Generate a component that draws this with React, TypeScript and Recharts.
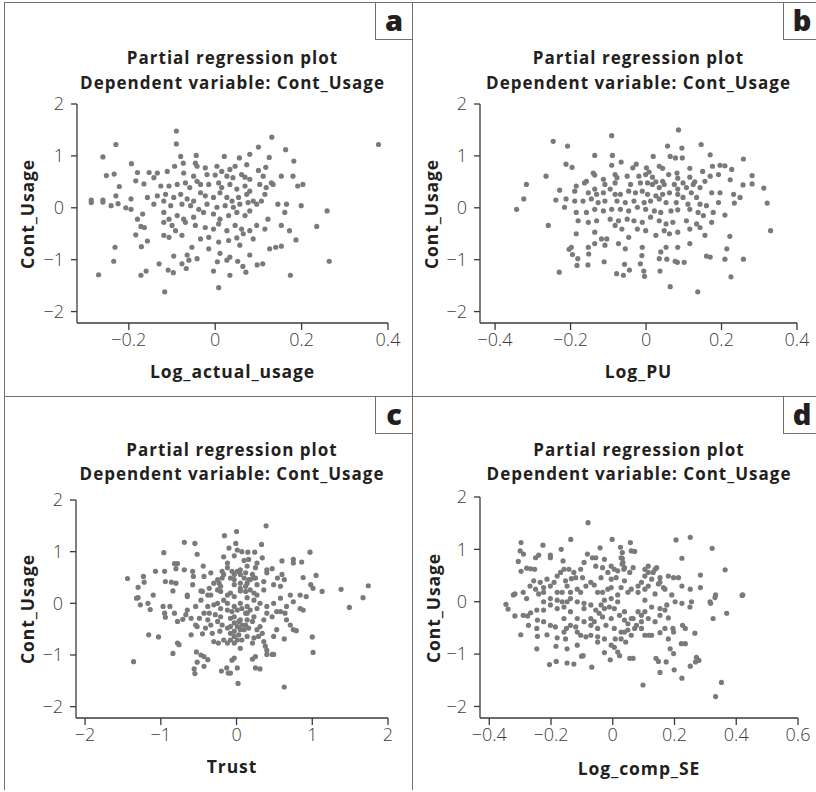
import React from 'react';
import { ScatterChart, Scatter, XAxis, YAxis } from 'recharts';

// Values (x, Cont_Usage residual)
const logActualUsage: [number, number][] = [
  // outer points
  [-0.09, 1.48], [-0.23, 1.22], [-0.09, 1.23], [0.131, 1.36], [0.378, 1.22], [-0.26, 0.98], [0.1, 1.17], [0.163, 1.12],
  [-0.252, 0.62], [-0.234, 0.65], [-0.222, 0.41], [-0.194, 0.85], [-0.18, 0.68], [-0.184, 0.52], [-0.165, 0.46], [-0.153, 0.68],
  [-0.157, 0.2], [-0.195, 0.17], [-0.23, 0.23], [-0.26, 0.15], [-0.287, 0.15],
  [-0.287, 0.1], [-0.26, 0.11], [-0.241, 0.04], [-0.225, 0.08], [-0.207, 0.0], [-0.195, -0.03], [-0.18, -0.22], [-0.168, -0.12],
  [-0.172, -0.36], [-0.164, -0.38], [-0.184, -0.52], [-0.157, -0.64], [-0.171, -0.75], [-0.232, -0.76], [-0.235, -1.03], [-0.27, -1.29],
  [-0.172, -1.3], [-0.16, -1.22], [-0.13, -1.08], [-0.117, -1.62], [-0.109, -1.2], [-0.097, -1.25], [-0.077, -1.08], [-0.067, -1.17],
  [-0.061, -1.01], [-0.004, -1.22], [0.008, -1.54], [0.005, -1.04], [0.027, -1.01], [0.034, -1.3], [0.052, -1.03], [0.064, -1.13],
  [0.071, -1.24], [0.097, -1.1], [0.11, -1.08], [0.174, -1.3], [0.235, -0.36], [0.259, -0.06], [0.264, -1.03],
  // dense centre
  [-0.08, 0.99], [-0.044, 1.01], [0.021, 0.99], [0.056, 0.96], [0.08, 1.03], [0.125, 0.97], [0.182, 0.9], [-0.094, 0.8],
  [-0.074, 0.86], [-0.046, 0.86], [-0.042, 0.8], [-0.023, 0.77], [0.004, 0.8], [0.015, 0.7], [0.034, 0.74], [0.046, 0.8],
  [0.073, 0.83], [0.1, 0.72], [0.117, 0.78], [0.153, 0.61], [0.18, 0.61], [-0.134, 0.67], [-0.111, 0.7], [-0.073, 0.67],
  [-0.05, 0.61], [-0.019, 0.64], [0.0, 0.63], [0.027, 0.61], [0.041, 0.58], [0.061, 0.64], [0.069, 0.59], [0.08, 0.55],
  [0.111, 0.61], [0.13, 0.48], [0.191, 0.42], [0.203, 0.45], [-0.142, 0.58], [-0.126, 0.42], [-0.107, 0.42], [-0.088, 0.45],
  [-0.069, 0.48], [-0.059, 0.39], [-0.042, 0.51], [-0.034, 0.45], [-0.015, 0.45], [0.008, 0.48], [0.015, 0.39], [0.034, 0.45],
  [0.05, 0.36], [0.069, 0.42], [0.08, 0.32], [0.103, 0.45], [0.118, 0.39], [0.134, 0.45], [-0.134, 0.23], [-0.115, 0.26],
  [-0.096, 0.2], [-0.08, 0.26], [-0.065, 0.17], [-0.05, 0.13], [-0.034, 0.29], [-0.023, 0.23], [-0.004, 0.2], [0.011, 0.29],
  [0.027, 0.2], [0.039, 0.13], [0.054, 0.2], [0.073, 0.26], [0.088, 0.13], [0.107, 0.13], [0.115, 0.26], [-0.142, 0.07],
  [-0.119, 0.13], [-0.103, 0.04], [-0.077, 0.07], [-0.057, 0.04], [-0.038, -0.03], [-0.019, 0.07], [0.004, 0.01], [0.023, 0.04],
  [0.042, 0.01], [0.057, 0.07], [0.076, 0.1], [0.096, 0.07], [0.145, 0.07], [0.165, 0.07], [0.199, 0.04], [-0.119, -0.09],
  [-0.107, -0.22], [-0.088, -0.15], [-0.073, -0.22], [-0.05, -0.18], [-0.027, -0.09], [-0.004, -0.12], [0.011, -0.22], [0.031, -0.15],
  [0.05, -0.09], [0.069, -0.15], [0.08, -0.06], [0.122, -0.22], [0.161, -0.09], [-0.119, -0.28], [-0.1, -0.34], [-0.092, -0.44],
  [-0.069, -0.28], [-0.046, -0.34], [-0.023, -0.38], [-0.004, -0.41], [0.008, -0.31], [0.027, -0.44], [0.046, -0.34], [0.061, -0.41],
  [0.08, -0.44], [0.096, -0.34], [0.115, -0.41], [0.153, -0.34], [0.172, -0.44], [-0.119, -0.53], [-0.107, -0.57], [-0.077, -0.53],
  [-0.034, -0.6], [-0.015, -0.57], [0.008, -0.66], [0.031, -0.63], [0.05, -0.58], [0.065, -0.5], [0.088, -0.6], [0.187, -0.62],
  [-0.096, -0.93], [-0.065, -0.91], [-0.054, -0.76], [-0.042, -0.98], [-0.015, -0.79], [0.011, -0.88], [0.034, -0.95], [0.057, -0.72],
  [0.08, -0.91], [0.126, -0.79], [0.14, -0.76], [0.153, -0.74],
];

const logPU: [number, number][] = [
  // outer points
  [-0.246, 1.28], [-0.208, 1.19], [-0.265, 0.61], [-0.317, 0.45], [-0.229, 0.34], [-0.091, 1.39], [0.057, 1.19], [0.086, 1.5],
  [0.095, 1.15], [0.146, 1.22], [0.209, 0.81], [0.227, 0.74], [0.258, 0.94], [0.223, 0.54], [0.257, 0.44], [0.281, 0.62],
  [0.281, 0.46], [0.312, 0.38], [0.232, 0.26], [0.249, 0.2], [-0.324, 0.17], [-0.239, 0.15],
  [-0.343, -0.03], [-0.259, -0.34], [-0.23, -1.24], [-0.195, -0.9], [-0.204, -0.8], [-0.183, -1.11], [-0.181, -0.98], [-0.154, -1.1],
  [-0.152, -0.89], [-0.111, -1.04], [-0.078, -1.27], [-0.06, -1.3], [-0.057, -1.09], [-0.044, -1.2], [-0.011, -0.92], [-0.015, -1.08],
  [-0.006, -1.22], [-0.004, -1.32], [0.035, -0.98], [0.037, -1.22], [0.055, -0.99], [0.064, -1.52], [0.077, -1.03], [0.083, -1.05],
  [0.101, -1.05], [0.137, -1.62], [0.214, -0.79], [0.209, -0.99], [0.222, -0.55], [0.225, -1.33], [0.258, -0.99], [0.33, -0.44],
  [0.321, 0.09], [0.234, 0.09], [0.209, -0.14],
  // dense centre
  [-0.136, 1.01], [-0.089, 1.01], [0.019, 0.99], [0.064, 0.99], [0.078, 0.96], [0.096, 0.96], [0.17, 1.02], [-0.212, 0.84],
  [-0.196, 0.78], [-0.091, 0.82], [-0.066, 0.88], [-0.035, 0.77], [-0.026, 0.84], [0.001, 0.77], [0.008, 0.69], [0.035, 0.8],
  [0.044, 0.76], [0.06, 0.64], [0.082, 0.67], [0.116, 0.76], [0.15, 0.7], [0.176, 0.8], [0.196, 0.82], [-0.14, 0.67],
  [-0.136, 0.63], [-0.082, 0.64], [-0.077, 0.58], [-0.05, 0.61], [-0.019, 0.61], [-0.001, 0.64], [0.017, 0.59], [0.026, 0.5],
  [0.044, 0.51], [0.084, 0.57], [0.098, 0.48], [0.116, 0.59], [0.129, 0.5], [0.156, 0.51], [0.17, 0.61], [0.192, 0.64],
  [-0.158, 0.51], [-0.163, 0.48], [-0.113, 0.55], [-0.109, 0.45], [-0.082, 0.48], [-0.041, 0.45], [-0.015, 0.48], [0.004, 0.48],
  [0.017, 0.45], [0.035, 0.39], [0.048, 0.45], [0.075, 0.45], [0.084, 0.36], [0.107, 0.39], [0.125, 0.45], [0.143, 0.39],
  [-0.185, 0.42], [-0.189, 0.32], [-0.153, 0.29], [-0.136, 0.36], [-0.131, 0.26], [-0.113, 0.29], [-0.095, 0.36], [-0.082, 0.26],
  [-0.068, 0.26], [-0.046, 0.32], [-0.028, 0.29], [-0.01, 0.32], [0.004, 0.26], [0.026, 0.23], [0.044, 0.26], [0.062, 0.29],
  [0.084, 0.26], [0.098, 0.2], [0.12, 0.29], [0.134, 0.2], [0.174, 0.29], [0.196, 0.29], [-0.212, 0.17], [-0.189, 0.13],
  [-0.167, 0.13], [-0.145, 0.17], [-0.127, 0.1], [-0.109, 0.13], [-0.077, 0.13], [-0.055, 0.1], [-0.032, 0.13], [-0.005, 0.1],
  [0.012, 0.13], [0.035, 0.17], [0.053, 0.1], [0.08, 0.1], [0.111, 0.07], [0.143, 0.07], [0.16, 0.04], [0.192, 0.1],
  [-0.216, 0.01], [-0.185, -0.09], [-0.158, -0.09], [-0.136, -0.03], [-0.113, -0.06], [-0.091, -0.03], [-0.068, -0.03], [-0.046, -0.06],
  [-0.023, 0.01], [-0.001, -0.03], [0.022, -0.06], [0.039, -0.09], [0.066, -0.06], [0.084, -0.04], [0.116, -0.03], [0.138, -0.09],
  [0.152, -0.15], [0.178, -0.09], [-0.18, -0.25], [-0.153, -0.28], [-0.131, -0.25], [-0.095, -0.22], [-0.073, -0.25], [-0.05, -0.22],
  [-0.032, -0.25], [-0.01, -0.28], [0.012, -0.18], [0.035, -0.25], [0.053, -0.31], [0.071, -0.28], [0.107, -0.25], [0.134, -0.31],
  [0.174, -0.28], [-0.185, -0.5], [-0.136, -0.47], [-0.118, -0.6], [-0.104, -0.6], [-0.082, -0.34], [-0.064, -0.41], [-0.046, -0.57],
  [-0.023, -0.41], [-0.001, -0.44], [0.026, -0.53], [0.048, -0.44], [0.062, -0.5], [0.084, -0.47], [0.116, -0.41], [0.143, -0.38],
  [0.156, -0.53], [-0.198, -0.76], [-0.153, -0.76], [-0.136, -0.69], [-0.109, -0.72], [-0.073, -0.69], [-0.055, -0.79], [-0.01, -0.76],
  [0.039, -0.85], [0.053, -0.76], [0.084, -0.76], [0.116, -0.69], [0.16, -0.93], [0.17, -0.95],
];

const trust: [number, number][] = [
  [-1.44, 0.48], [-1.3, 0.31], [-1.23, 0.52], [-1.22, 0.41], [-1.07, 0.62], [-0.96, 0.98], [-0.95, 0.62], [-0.94, 0.42],
  [-0.86, 0.41], [-0.8, 0.39], [-0.82, 0.77], [-0.78, 0.77], [-0.8, 0.67], [-0.69, 1.18], [-0.55, 1.16], [-0.69, 0.65],
  [-0.58, 0.62], [-0.52, 0.95], [-0.44, 0.72], [-0.57, 0.52], [-0.43, 0.52], [-0.34, 0.59], [-0.36, 0.29], [-0.58, 0.36],
  [-0.47, 0.24], [-0.84, 0.24], [-1.1, 0.16], [-0.16, 1.31], [0.0, 1.39], [-0.01, 1.16], [-0.1, 1.07], [0.01, 1.03],
  [0.07, 1.0], [0.15, 0.99], [0.24, 0.99], [0.39, 1.5], [0.33, 1.14], [-0.17, 0.9], [-0.03, 0.92], [0.1, 0.83],
  [0.16, 0.85], [0.27, 0.78], [0.34, 0.88], [-0.12, 0.78], [-0.12, 0.69], [-0.06, 0.62], [0.05, 0.65], [0.14, 0.72],
  [0.25, 0.69], [0.4, 0.65], [0.47, 0.67], [0.4, 0.59], [0.6, 0.82], [0.75, 0.85], [0.75, 0.78], [0.86, 0.8],
  [0.97, 0.99], [0.63, 0.46], [0.6, 0.56], [0.54, 0.49], [0.88, 0.5], [1.05, 0.54], [0.98, 0.36], [1.01, 0.29],
  [1.13, 0.23], [1.38, 0.27], [1.74, 0.34], [-0.23, 0.39], [-0.19, 0.49], [-0.03, 0.46], [0.05, 0.39], [0.12, 0.33],
  [0.16, 0.46], [0.23, 0.49], [0.36, 0.42], [0.49, 0.36], [-0.21, 0.23], [-0.08, 0.2], [0.05, 0.24], [0.23, 0.2],
  [0.58, 0.33], [0.71, 0.16], [0.84, 0.16], [-0.65, 0.16], [-0.38, 0.16], [-1.3, 0.11], [1.67, 0.11],
  [-1.32, 0.1], [-1.27, -0.03], [-1.17, 0.0], [-1.14, -0.12], [-0.97, -0.06], [-0.95, -0.19], [-0.94, -0.27], [-0.88, -0.06],
  [-1.16, -0.61], [-1.03, -0.65], [-1.36, -1.13], [-0.84, -0.97], [-0.78, -0.35], [-0.71, -0.31], [-0.67, -0.22], [-0.76, -0.8],
  [-0.78, -0.77], [-0.6, -0.61], [-0.6, -0.29], [-0.54, -0.06], [-0.52, -0.45], [-0.54, -0.42], [-0.56, -1.27], [-0.55, -1.36],
  [-0.52, -1.14], [-0.53, -0.94], [-0.47, -1.0], [-0.43, -1.03], [-0.43, -1.22], [-0.38, -1.09], [-0.45, -0.59], [-0.41, -0.48],
  [-0.34, -0.42], [-0.38, -0.32], [-0.36, -0.19], [-0.32, -0.58], [-0.3, -0.74], [-0.24, -0.77], [-0.2, -1.31], [-0.13, -1.25],
  [-0.11, -1.35], [-0.08, -1.35], [0.02, -1.55], [-0.06, -1.1], [-0.03, -1.06], [0.01, -1.25], [-0.22, -0.54], [-0.17, -0.71],
  [-0.12, -0.77], [-0.08, -0.71], [-0.03, -0.64], [0.01, -0.71], [0.05, -0.87], [0.05, -0.51], [0.12, -0.42], [0.14, -0.32],
  [0.21, -0.35], [0.21, -1.08], [0.25, -1.03], [0.25, -1.25], [0.31, -1.27], [0.23, -0.67], [0.29, -0.64], [0.34, -0.58],
  [0.36, -0.74], [0.38, -0.83], [0.4, -0.91], [0.4, -0.99], [0.47, -0.99], [0.49, -0.99], [0.31, -0.45], [0.36, -0.32],
  [0.4, -0.19], [0.47, -0.26], [0.53, -0.16], [0.64, -0.19], [0.66, -0.32], [0.71, -0.42], [0.75, -0.51], [0.79, -0.53],
  [0.63, -0.69], [0.63, -1.62], [1.0, -0.65], [1.01, -0.95], [0.84, -0.1], [0.88, -0.13], [0.75, 0.03], [0.92, 0.13],
  [1.49, -0.08], [-0.25, 0.0], [-0.17, 0.06], [-0.03, -0.06], [0.05, 0.0], [0.14, -0.06], [0.23, 0.06], [-0.12, -0.13],
  [-0.03, -0.26], [0.05, -0.32], [0.14, -0.19], [0.31, 0.0], [0.49, 0.0], [0.58, 0.1], [-0.47, 0.06], [-0.38, -0.06],
  [-0.65, 0.13], [-0.21, -0.26], [-0.08, -0.45],
  // dense centre
  [-0.3, 0.39], [-0.25, 0.46], [-0.19, 0.62], [-0.17, 0.56], [-0.08, 0.49], [-0.03, 0.56], [0.01, 0.62], [0.05, 0.56],
  [0.1, 0.49], [0.12, 0.59], [0.14, 0.39], [0.18, 0.46], [0.21, 0.56], [0.25, 0.49], [0.27, 0.36], [-0.25, 0.26],
  [-0.21, 0.33], [-0.03, 0.36], [0.05, 0.29], [0.12, 0.23], [0.18, 0.26], [-0.12, 0.16], [-0.03, 0.13], [0.14, 0.11],
  [0.27, 0.16], [0.36, 0.26], [-0.45, 0.23], [-0.34, 0.16], [-0.3, -0.03], [-0.21, -0.1], [-0.12, 0.0], [-0.06, -0.16],
  [0.01, -0.13], [0.07, -0.1], [0.12, -0.19], [0.18, -0.13], [0.27, -0.1], [0.4, -0.06], [-0.08, -0.29], [-0.03, -0.38],
  [0.01, -0.45], [0.03, -0.35], [0.07, -0.42], [0.1, -0.51], [-0.03, -0.54], [-0.08, -0.58], [-0.12, -0.48], [-0.19, -0.42],
  [-0.25, -0.35], [-0.28, -0.22], [0.23, -0.26], [0.27, -0.51], [0.16, -0.48], [0.03, -0.61], [-0.03, -0.77], [0.07, -0.71],
  [0.14, -0.64], [0.21, -0.77], [-0.43, -0.19], [-0.49, -0.29], [-0.65, -0.13], [-0.82, -0.19], [0.66, -0.06], [0.58, -0.16],
  [0.53, -0.51], [0.49, -0.64],
];

const logCompSE: [number, number][] = [
  [-0.08, 1.51], [-0.297, 1.13], [-0.3, 0.97], [-0.289, 0.91], [-0.306, 0.77], [-0.297, 0.58], [-0.279, 0.64], [-0.266, 0.63],
  [-0.253, 0.62], [-0.226, 1.08], [-0.25, 0.84], [-0.24, 0.89], [-0.202, 0.89], [-0.202, 0.84], [-0.167, 1.0], [-0.161, 0.78],
  [-0.136, 1.19], [-0.142, 0.62], [-0.134, 0.44], [-0.082, 0.91], [-0.066, 0.84], [-0.055, 0.84], [-0.041, 1.03], [-0.027, 0.81],
  [-0.033, 0.65], [-0.002, 1.19], [0.025, 1.04], [0.031, 0.94], [0.031, 0.83], [0.057, 1.13], [0.06, 0.97], [0.071, 0.96],
  [0.033, 0.75], [0.005, 0.62], [0.016, 0.59], [0.038, 0.65], [0.055, 0.56], [0.066, 0.65], [0.104, 0.62], [0.115, 0.56],
  [0.137, 0.62], [0.126, 0.43], [0.153, 0.46], [0.18, 0.49], [0.197, 0.46], [0.213, 0.46], [0.205, 1.18], [0.251, 1.23],
  [0.224, 0.83], [0.284, 0.51], [0.322, 1.02], [0.364, 0.61], [0.224, 0.3], [0.251, 0.24], [0.284, 0.27], [-0.256, 0.4],
  [-0.235, 0.37], [-0.213, 0.43], [-0.18, 0.49], [-0.19, 0.37], [-0.153, 0.4], [-0.12, 0.46], [-0.098, 0.46], [-0.087, 0.3],
  [-0.06, 0.32], [-0.038, 0.46], [-0.005, 0.43], [-0.016, 0.24], [0.027, 0.27], [0.06, 0.24], [0.093, 0.37], [0.115, 0.3],
  [0.148, 0.34], [0.169, 0.24], [-0.25, 0.24], [-0.224, 0.18], [-0.18, 0.18], [-0.137, 0.18], [-0.104, 0.18], [-0.049, 0.18],
  [0.016, 0.13], [0.082, 0.18], [0.137, 0.15], [0.191, 0.13], [-0.317, 0.15], [0.421, 0.13], [0.333, 0.13],
  [-0.346, -0.05], [-0.339, -0.14], [-0.317, -0.27], [-0.29, -0.26], [-0.276, -0.27], [-0.266, -0.21], [-0.246, -0.16], [-0.298, -0.63],
  [-0.244, -0.35], [-0.244, -0.66], [-0.246, -0.9], [-0.213, -0.63], [-0.224, -0.16], [-0.205, -1.2], [-0.183, -1.14], [-0.184, -0.85],
  [-0.18, -0.69], [-0.186, -0.48], [-0.18, -0.13], [-0.158, -0.32], [-0.15, -0.51], [-0.153, -0.71], [-0.148, -1.17], [-0.126, -1.19],
  [-0.12, -0.48], [-0.115, -0.58], [-0.104, -0.64], [-0.101, -1.04], [-0.096, -1.03], [-0.068, -1.25], [-0.087, -0.67], [-0.071, -0.64],
  [-0.049, -0.67], [-0.093, -0.38], [-0.071, -0.32], [-0.06, -0.38], [-0.027, -0.97], [-0.008, -1.11], [0.005, -0.87], [0.016, -0.96],
  [0.022, -1.03], [0.042, -0.77], [0.055, -1.08], [0.066, -1.08], [0.098, -1.59], [0.027, -0.71], [0.008, -0.71], [0.005, -0.51],
  [0.027, -0.58], [0.049, -0.54], [0.071, -0.51], [0.104, -0.64], [0.117, -0.64], [0.126, -0.64], [0.14, -1.08], [0.148, -1.14],
  [0.153, -0.59], [0.153, -1.35], [0.173, -1.15], [0.186, -0.9], [0.197, -0.99], [0.199, -1.3], [0.195, -0.51], [0.197, -0.58],
  [0.224, -1.46], [0.222, -0.8], [0.235, -0.8], [0.226, -0.45], [0.235, -0.51], [0.251, -1.23], [0.268, -1.15], [0.271, -1.06],
  [0.266, -0.6], [0.279, -1.12], [0.325, -0.32], [0.333, -1.81], [0.352, -1.54], [0.369, -0.22], [0.419, 0.12], [0.331, 0.08],
  [0.315, 0.0], [0.317, -0.03], [0.255, 0.0], [0.25, -0.1], [0.224, -0.03], [0.202, 0.0], [0.18, -0.31], [0.175, -0.06],
  [0.153, -0.13], [0.126, -0.1], [0.104, 0.03], [0.082, -0.19], [0.093, -0.38], [0.06, -0.32], [0.038, -0.19], [0.016, 0.0],
  [-0.005, 0.06], [-0.027, -0.13], [-0.044, -0.22], [-0.033, -0.29], [-0.011, -0.1], [-0.115, 0.0], [-0.093, -0.03], [-0.137, 0.06],
  [-0.164, 0.0], [-0.202, 0.06], [-0.279, 0.06], [-0.322, 0.13], [-0.137, -0.19],
  // dense centre
  [0.027, 0.84], [0.03, 0.72], [0.036, 0.62], [-0.005, 0.68], [-0.016, 0.56], [0.011, 0.46], [0.038, 0.4], [0.104, 0.49],
  [0.115, 0.68], [0.131, 0.56], [0.142, 0.65], [0.153, 0.37], [0.164, 0.27], [0.104, 0.24], [0.082, 0.3], [0.049, 0.18],
  [-0.005, 0.27], [-0.033, 0.18], [-0.071, 0.37], [-0.115, 0.24], [-0.148, 0.3], [-0.164, 0.18], [-0.202, 0.3], [-0.224, 0.27],
  [-0.24, 0.15], [-0.169, 0.56], [-0.158, 0.62], [-0.126, 0.56], [-0.104, 0.62], [-0.093, 0.75], [-0.055, 0.68], [-0.268, 0.3],
  [-0.29, 0.18], [-0.224, 0.0], [-0.202, -0.06], [-0.18, 0.03], [-0.158, -0.1], [-0.148, 0.0], [-0.093, -0.13], [-0.071, -0.06],
  [-0.055, -0.16], [-0.038, -0.06], [-0.027, 0.03], [0.005, -0.13], [0.022, -0.26], [0.038, -0.35], [0.049, -0.42], [0.066, -0.32],
  [0.077, -0.45], [0.093, -0.26], [0.104, -0.19], [0.115, -0.32], [0.137, -0.38], [0.153, -0.26], [0.169, -0.16], [-0.005, -0.32],
  [-0.022, -0.45], [-0.049, -0.51], [-0.071, -0.45], [-0.115, -0.32], [-0.137, -0.45], [-0.158, -0.58], [-0.202, -0.45], [-0.224, -0.38],
  [-0.246, -0.51], [-0.273, -0.45], [0.038, -0.58], [0.06, -0.64], [0.093, -0.51], [-0.049, -0.77], [-0.027, -0.71], [-0.005, -0.83],
  [-0.115, -0.83], [-0.148, -0.9], [0.169, -0.51], [0.18, -0.71],
];

const yTicks = [-2, -1, 0, 1, 2];
const ticksA = [-0.2, 0, 0.2, 0.4];
const ticksB = [-0.4, -0.2, 0, 0.2, 0.4];
const ticksC = [-2, -1, 0, 1, 2];
const ticksD = [-0.4, -0.2, 0, 0.2, 0.4, 0.6];

const TITLE_1 = 'Partial regression plot';
const TITLE_2 = 'Dependent variable: Cont_Usage';
const Y_LABEL = 'Cont_Usage';

const DOT = '#7a7a7a';
const AXIS = '#3a3a3a';
const FRAME = '#707070';
const TEXT = '#231f20';
const BOLD_FONT = '"Open Sans", sans-serif';
const TICK_FONT = '"Open Sans", sans-serif';

interface PanelProps {
  letter: string;
  xLabel: string;
  points: [number, number][];
  xDomain: [number, number];
  xTicks: number[];
  left: number;
  top: number;
  margin: { top: number; left: number; right: number; bottom: number };
  titleY: number;
  titleGap: number;
  xLabelY: number;
  yLabelX: number;
}

const fmt = (v: number) => String(v).replace('-', '\u2212');

function Panel({ letter, xLabel, points, xDomain, xTicks, left, top, margin, titleY, titleGap, xLabelY, yLabelX }: PanelProps) {
  const W = 408;
  const H = 394;
  const data = points.map(([x, y]) => ({ x, y }));
  const plotLeft = margin.left + 40;
  const plotRight = W - margin.right;
  const plotTop = margin.top;
  const plotBottom = H - margin.bottom - 30;
  const cx = (plotLeft + plotRight) / 2;
  const cy = (plotTop + plotBottom) / 2;
  const bold: React.CSSProperties = {
    position: 'absolute',
    fontFamily: BOLD_FONT,
    fontWeight: 700,
    color: TEXT,
    whiteSpace: 'nowrap',
    lineHeight: 1,
  };
  const tickStyle = { fill: '#3c3c3c', fontSize: 18, fontFamily: TICK_FONT, fontWeight: 300 };
  return (
    <div
      style={{
        position: 'absolute',
        left,
        top,
        width: W,
        height: H,
        borderLeft: `1.5px solid ${FRAME}`,
        borderTop: `1.5px solid ${FRAME}`,
        boxSizing: 'border-box',
      }}
    >
      <div style={{ position: 'absolute', left: 0, top: 0 }}>
        <ScatterChart width={W} height={H} margin={margin}>
          <XAxis
            type="number"
            dataKey="x"
            domain={xDomain}
            ticks={xTicks}
            allowDataOverflow
            tickFormatter={fmt}
            tickSize={7}
            tickMargin={3}
            axisLine={{ stroke: AXIS, strokeWidth: 1.3 }}
            tickLine={{ stroke: AXIS, strokeWidth: 1.3 }}
            tick={tickStyle}
            height={30}
          />
          <YAxis
            type="number"
            dataKey="y"
            domain={[-2.22, 2]}
            ticks={yTicks}
            allowDataOverflow
            tickFormatter={fmt}
            tickSize={6}
            tickMargin={7}
            axisLine={{ stroke: AXIS, strokeWidth: 1.3 }}
            tickLine={{ stroke: AXIS, strokeWidth: 1.3 }}
            tick={tickStyle}
            width={40}
          />
          <Scatter
            data={data}
            fill={DOT}
            isAnimationActive={false}
            shape={(p: unknown) => {
              const s = p as { cx: number; cy: number };
              return <circle cx={s.cx} cy={s.cy} r={2.6} fill={DOT} />;
            }}
          />
        </ScatterChart>
      </div>

      {/* Title */}
      <div style={{ ...bold, fontSize: 17, letterSpacing: 1, left: cx, top: titleY, transform: 'translateX(-50%)' }}>{TITLE_1}</div>
      <div style={{ ...bold, fontSize: 17, letterSpacing: 1, left: cx, top: titleY + titleGap, transform: 'translateX(-50%)' }}>{TITLE_2}</div>

      {/* Axis labels */}
      <div style={{ ...bold, fontSize: 17.5, letterSpacing: 0.9, left: cx, top: xLabelY, transform: 'translateX(-50%)' }}>{xLabel}</div>
      <div
        style={{
          ...bold,
          fontSize: 17.5,
          letterSpacing: 0.9,
          left: yLabelX,
          top: cy,
          transform: 'translate(-50%, -50%) rotate(-90deg)',
        }}
      >
        {Y_LABEL}
      </div>

      {/* Panel letter */}
      <div
        style={{
          position: 'absolute',
          right: 0,
          top: 0,
          width: 37,
          height: 37,
          borderLeft: `1.5px solid ${FRAME}`,
          borderBottom: `1.5px solid ${FRAME}`,
          boxSizing: 'border-box',
          display: 'flex',
          alignItems: 'center',
          justifyContent: 'center',
          fontFamily: BOLD_FONT,
          fontWeight: 800,
          fontSize: 29,
          color: TEXT,
          lineHeight: 1,
          paddingBottom: 4,
        }}
      >
        {letter}
      </div>
    </div>
  );
}

export default function App() {
  return (
    <div
      style={{
        position: 'absolute',
        left: 0,
        top: 0,
        width: 816,
        height: 792,
        overflow: 'hidden',
        background: '#fff',
      }}
    >
      <Panel
        letter="a"
        xLabel="Log_actual_usage"
        points={logActualUsage}
        xDomain={[-0.32, 0.4]}
        xTicks={ticksA}
        left={4}
        top={2}
        margin={{ top: 101, left: 32, right: 25, bottom: 44 }}
        titleY={46}
        titleGap={25}
        xLabelY={360}
        yLabelX={23}
      />
      <Panel
        letter="b"
        xLabel="Log_PU"
        points={logPU}
        xDomain={[-0.44, 0.4]}
        xTicks={ticksB}
        left={412}
        top={2}
        margin={{ top: 101, left: 27, right: 24, bottom: 44 }}
        titleY={46}
        titleGap={25}
        xLabelY={360}
        yLabelX={19}
      />
      <Panel
        letter="c"
        xLabel="Trust"
        points={trust}
        xDomain={[-2.12, 2]}
        xTicks={ticksC}
        left={4}
        top={396}
        margin={{ top: 103, left: 31, right: 25, bottom: 43 }}
        titleY={44}
        titleGap={24}
        xLabelY={361}
        yLabelX={23}
      />
      <Panel
        letter="d"
        xLabel="Log_comp_SE"
        points={logCompSE}
        xDomain={[-0.43, 0.6]}
        xTicks={ticksD}
        left={412}
        top={396}
        margin={{ top: 100, left: 27, right: 23, bottom: 43 }}
        titleY={44}
        titleGap={24}
        xLabelY={363}
        yLabelX={21}
      />
    </div>
  );
}
